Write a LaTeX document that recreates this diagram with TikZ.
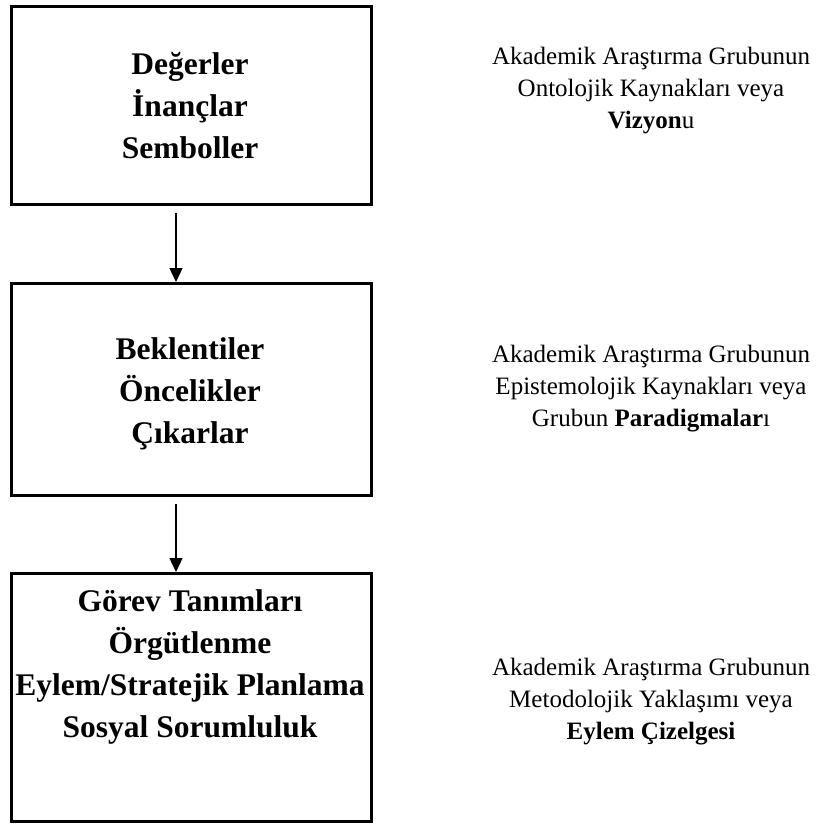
\documentclass[tikz,border=0pt]{standalone}
\usepackage{fontspec}
\setmainfont{Liberation Serif}
\usetikzlibrary{arrows.meta, positioning, calc}

\begin{document}
\begin{tikzpicture}[x=1pt, y=-1pt, every node/.style={align=center}]
  \tikzset{
    panel/.style={draw, line width=3pt, inner sep=0pt, minimum width=360pt},
    head/.style={font=\fontsize{31.5}{42}\selectfont\bfseries},
    note/.style={font=\fontsize{25}{32}\selectfont},
    flow/.style={-{Triangle[length=14pt, width=13pt]}, line width=1.2pt}
  }
  \useasboundingbox (0,0) rectangle (833,825);

  % Boxes
  \node[panel, minimum height=198pt] (vals) at (191.5,105.5) {};
  \node[panel, minimum height=212pt] (expect) at (191.5,389.5) {};
  \node[panel, minimum height=248pt] (tasks) at (191.5,697.5) {};

  % Box texts
  \node[head] (valstxt) at (190,106) {Değerler\\İnançlar\\Semboller};
  \node[head] (expecttxt) at (190,394) {Beklentiler\\Öncelikler\\Çıkarlar};
  \node[head] (taskstxt) at (190,667) {Görev Tanımları\\Örgütlenme\\Eylem/Stratejik Planlama\\Sosyal Sorumluluk};

  % Side notes
  \node[note] (onto) at (651,91) {Akademik Araştırma Grubunun\\Ontolojik Kaynakları veya\\\textbf{Vizyon}u};
  \node[note] (epis) at (651,389) {Akademik Araştırma Grubunun\\Epistemolojik Kaynakları veya\\Grubun \textbf{Paradigmalar}ı};
  \node[note] (meth) at (651,702) {Akademik Araştırma Grubunun\\Metodolojik Yaklaşımı veya\\\textbf{Eylem Çizelgesi}};

  % Arrows
  \draw[flow] ([xshift=-15.5pt, yshift=-7pt]vals.south) -- ([xshift=-15.5pt]expect.north);
  \draw[flow] ([xshift=-15.5pt, yshift=-7pt]expect.south) -- ([xshift=-15.5pt]tasks.north);
\end{tikzpicture}
\end{document}
